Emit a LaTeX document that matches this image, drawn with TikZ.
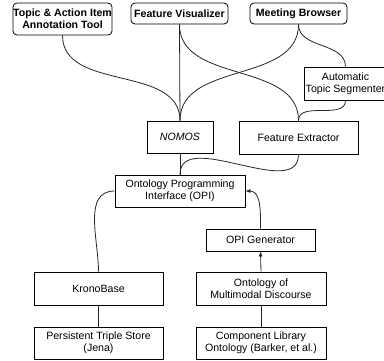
\documentclass[tikz,border=0pt]{standalone}
\usepackage{fontspec}
\setmainfont{Liberation Sans}
\usetikzlibrary{arrows.meta}

\begin{document}
\begin{tikzpicture}[
  x=1pt, y=-1pt, line width=0.8pt,
  box/.style={draw=black, align=center, inner sep=0pt,
              font=\fontsize{10.6}{12}\selectfont},
  tool/.style={box, rounded corners=4pt,
               font=\fontsize{10.6}{12}\selectfont\bfseries},
  link/.style={draw=black!85},
  uarr/.style={link, -{Latex[length=5pt,width=4pt]}}
]
\clip (0,0) rectangle (384,360);

%% Front-end tools
\node[tool, minimum width=99pt, minimum height=32pt](topic) at (62.5,19)
  {Topic \& Action Item\\Annotation Tool};
\node[tool, minimum width=97pt, minimum height=21pt](fvis) at (179.5,13.5)
  {Feature Visualizer};
\node[tool, minimum width=97pt, minimum height=21pt](mbrowse) at (298.5,13.5)
  {Meeting Browser};

%% Middle layer
\node[box, minimum width=83pt, minimum height=33pt](segm) at (345.5,83.5)
  {Automatic\\Topic Segmenter};
\node[box, minimum width=66pt, minimum height=32pt](nomos) at (180,137)
  {\itshape NOMOS};
\node[box, minimum width=119pt, minimum height=33pt](fext) at (298.5,137.5)
  {Feature Extractor};
\node[box, minimum width=130pt, minimum height=32pt](opi) at (180,191)
  {Ontology Programming\\Interface (OPI)};
\node[box, minimum width=109pt, minimum height=22pt](opigen) at (260.5,240)
  {OPI Generator};

%% Storage and ontologies
\node[box, minimum width=129pt, minimum height=33pt](krono) at (98.5,288.5)
  {KronoBase};
\node[box, minimum width=129pt, minimum height=32pt](jena) at (98.5,343)
  {Persistent Triple Store\\(Jena)};
\node[box, minimum width=130pt, minimum height=33pt](omd) at (261,288.5)
  {Ontology of\\Multimodal Discourse};
\node[box, minimum width=130pt, minimum height=32pt](clo) at (261,343)
  {Component Library\\Ontology (Barker, et al.)};

%% Connections
\draw[link] (topic.south) to[out=-90,in=90] (nomos.north);
\draw[link] (fvis.south) -- (nomos.north);
\draw[link] (fvis.south) to[out=-90,in=90] (fext.north);
\draw[link] (mbrowse.south) to[out=-90,in=90] (nomos.north);
\draw[link] (mbrowse.south) to[out=-90,in=90] (segm.north);
\draw[link] (segm.south) to[out=-90,in=90] (fext.north);
\draw[link] (nomos.south) -- (opi.north);
\draw[link] (fext.south) to[out=-90,in=90] (opi.north);
\draw[link] (krono.north) to[out=90,in=180] (opi.west);
\draw[link] (jena.north) -- (krono.south);
\draw[uarr] (opigen.north) to[out=90,in=0] (opi.east);
\draw[uarr] (omd.north) -- (opigen.south);
\draw[link] (clo.north) -- (omd.south);
\end{tikzpicture}
\end{document}
